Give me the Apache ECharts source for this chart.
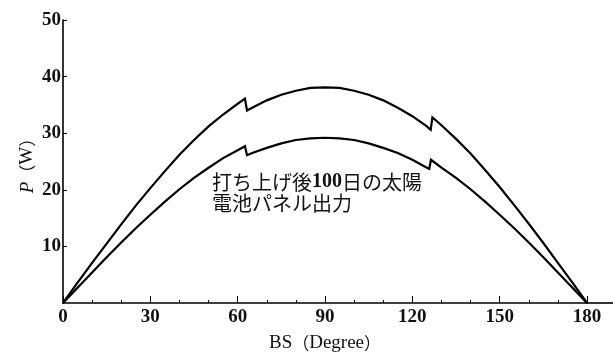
<!DOCTYPE html>
<html>
<head>
<meta charset="utf-8">
<script src="https://cdn.jsdelivr.net/npm/echarts@6/dist/echarts.min.js"></script>
<style>
  html, body { margin: 0; padding: 0; background: #fff; }
  #chart { width: 613px; height: 358px; }
</style>
</head>
<body>
<div id="chart"></div>
<script>
// Solar panel output P (W) against BS angle (degrees)
const upperDeg = [0, 5, 10, 15, 20, 25, 30, 35, 40, 45, 50, 55, 60, 62.5,
  63.2, 65, 70, 75, 80, 85, 90, 95, 100, 105, 110, 115, 120, 125, 126.3,
  126.9, 130, 135, 140, 145, 150, 155, 160, 165, 170, 175, 180];
const upperP = [0, 3.6, 7.1, 10.5, 13.9, 17.2, 20.3, 23.3, 26.2, 28.8, 31.2, 33.3, 35.2, 36.1,
  34.0, 34.5, 35.8, 36.8, 37.5, 38.0, 38.1, 38.0, 37.5, 36.8, 35.8, 34.5, 33.0, 31.2, 30.6,
  32.8, 31.4, 29.0, 26.4, 23.5, 20.5, 17.3, 14.0, 10.6, 7.1, 3.6, 0];

const lowerDeg = [0, 5, 10, 15, 20, 25, 30, 35, 40, 45, 50, 55, 60, 62.5,
  63.2, 65, 70, 75, 80, 85, 90, 95, 100, 105, 110, 115, 120, 125, 125.8,
  126.4, 130, 135, 140, 145, 150, 155, 160, 165, 170, 175, 180];
const lowerP = [0, 2.7, 5.4, 8.1, 10.7, 13.2, 15.6, 17.9, 20.1, 22.1, 23.9, 25.6, 27.0, 27.7,
  26.1, 26.5, 27.4, 28.2, 28.8, 29.1, 29.2, 29.1, 28.8, 28.2, 27.4, 26.5, 25.3, 23.9, 23.7,
  25.3, 23.9, 22.1, 20.1, 17.9, 15.6, 13.2, 10.7, 8.1, 5.4, 2.7, 0];

const xTicks = [0, 30, 60, 90, 120, 150, 180];
const yTicks = [0, 10, 20, 30, 40, 50];
const xNameRich = '{t|BS}{p|（}{t|Degree}{p|）}';
const yNameRich = '{i|P}{p|（}{t|W}{p|）}';
const noteRich = '{c|打ち上げ後}{n|100}{c|日の太陽}\n{c|電池パネル出力}';

const serif = "'Liberation Serif', 'DejaVu Serif', serif";
const cjk = "'Noto Sans CJK JP', sans-serif";

const zip = (xs, ys) => xs.map((x, i) => [x, ys[i]]);

const chart = echarts.init(document.getElementById('chart'), null, { renderer: 'canvas' });

const curveStyle = { color: '#000', width: 2.2, join: 'miter' };

const nameRich = {
  t: { fontFamily: serif, fontSize: 19, color: '#111' },
  i: { fontFamily: serif, fontSize: 19, fontStyle: 'italic', color: '#111' },
  p: { fontFamily: cjk, fontSize: 17, color: '#111' }
};

chart.setOption({
  animation: false,
  backgroundColor: '#fff',
  grid: { left: 63, right: 26, top: 20, bottom: 53, containLabel: false },
  xAxis: {
    type: 'value',
    min: xTicks[0],
    max: xTicks[xTicks.length - 1],
    interval: 30,
    name: xNameRich,
    nameLocation: 'middle',
    nameGap: 31,
    nameMoveOverlap: false,
    nameTextStyle: { rich: nameRich },
    axisLine: { lineStyle: { color: '#000', width: 1.6 } },
    axisTick: { inside: true, length: 7, lineStyle: { color: '#000', width: 1 } },
    minorTick: { show: true, splitNumber: 3, length: 3, lineStyle: { color: '#000', width: 1 } },
    axisLabel: { fontFamily: serif, fontSize: 19, fontWeight: 'bold', color: '#111', margin: 5 },
    splitLine: { show: false }
  },
  yAxis: {
    type: 'value',
    min: yTicks[0],
    max: yTicks[yTicks.length - 1],
    interval: 10,
    name: yNameRich,
    nameLocation: 'middle',
    nameGap: 26,
    nameMoveOverlap: false,
    nameRotate: 90,
    nameTextStyle: { rich: nameRich },
    axisLine: { show: true, lineStyle: { color: '#000', width: 1.6 } },
    axisTick: { show: true, inside: true, length: 4, lineStyle: { color: '#000', width: 1 } },
    axisLabel: { fontFamily: serif, fontSize: 19, fontWeight: 'bold', color: '#111', margin: 2, showMinLabel: false },
    splitLine: { show: false }
  },
  series: [
    {
      type: 'line',
      data: zip(upperDeg, upperP),
      showSymbol: false,
      lineStyle: curveStyle,
      z: 3
    },
    {
      type: 'line',
      data: zip(lowerDeg, lowerP),
      showSymbol: false,
      lineStyle: curveStyle,
      z: 3
    }
  ]
});

// extend the horizontal axis line to the right edge, and place the note
const axisEnd = chart.convertToPixel({ gridIndex: 0 }, [xTicks[xTicks.length - 1], 0]);
chart.setOption({
  graphic: [
    {
      type: 'line',
      shape: { x1: axisEnd[0], y1: axisEnd[1], x2: chart.getWidth(), y2: axisEnd[1] },
      style: { stroke: '#000', lineWidth: 1.6 }
    },
    {
      type: 'text',
      left: 212,
      top: 172,
      style: {
        text: noteRich,
        fill: '#111',
        rich: {
          c: { fontFamily: cjk, fontSize: 20, lineHeight: 21, color: '#111' },
          n: { fontFamily: serif, fontSize: 20, fontWeight: 'bold', lineHeight: 21, color: '#111' }
        }
      }
    }
  ]
});
</script>
</body>
</html>
